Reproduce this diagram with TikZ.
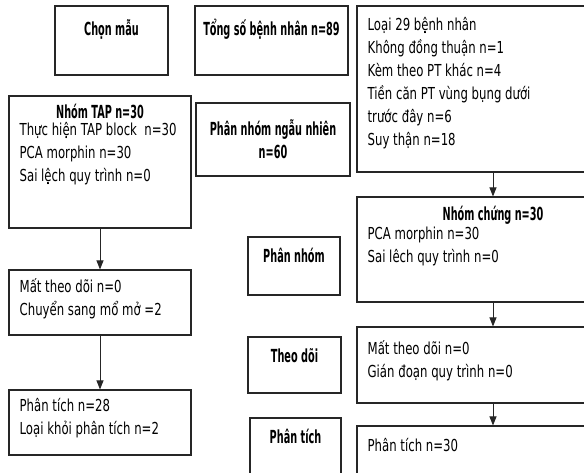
\documentclass[tikz,border=0pt]{standalone}
\usepackage{fontspec}
\setmainfont{DejaVu Sans}[FakeStretch=0.71, BoldFeatures={FakeStretch=0.54}]
\usetikzlibrary{arrows.meta}

\tikzset{
  box/.style={draw=black!85, line width=1.1pt, inner sep=0pt},
  head/.style={font=\bfseries\fontsize{18}{23}\selectfont, align=center, inner sep=0pt},
  body/.style={font=\fontsize{16.5}{23}\selectfont, align=left, anchor=north west, inner sep=0pt},
  flow/.style={-{Triangle[length=9pt,width=7pt]}, line width=0.9pt, black!85}
}

\begin{document}
\begin{tikzpicture}[x=1pt,y=-1pt]
\useasboundingbox (0,0) rectangle (584,472);
\clip (0,0) rectangle (584,472);
%top row
\node[box, minimum width=113pt, minimum height=69pt] (chon) at (111.5,40.5) {};
\node[box, minimum width=153pt, minimum height=69pt] (tong) at (271.5,40.5) {};
\node[box, minimum width=272pt, minimum height=166pt] (loai) at (493,89) {};
\node[head] (chonT) at ([yshift=-24pt]chon.north) {Chọn mẫu};
\node[head] (tongT) at ([yshift=-24pt]tong.north) {Tổng số bệnh nhân n=89};
\node[body] (loaiT) at ([xshift=11pt,yshift=-12pt]loai.north west)
  {Loại 29 bệnh nhân\\Không đồng thuận n=1\\Kèm theo PT khác n=4\\Tiền căn PT vùng bụng dưới\\trước đây n=6\\Suy thận n=18};
%groups
\node[box, minimum width=182pt, minimum height=132pt] (tap) at (100,162) {};
\node[box, minimum width=154pt, minimum height=73pt] (ngau) at (273,139.5) {};
\node[box, minimum width=272pt, minimum height=105pt] (chung) at (493,249.5) {};
\node[head] (tapH) at ([yshift=-16pt]tap.north) {Nhóm TAP n=30};
\node[body] (tapT) at ([xshift=11pt,yshift=-27pt]tap.north west)
  {Thực hiện TAP block\ \ n=30\\PCA morphin n=30\\Sai lệch quy trình n=0};
\node[head] (ngauT) at (ngau.center) {Phân nhóm ngẫu nhiên\\n=60};
\node[head] (chungH) at ([yshift=-19pt]chung.north) {Nhóm chứng n=30};
\node[body] (chungT) at ([xshift=11pt,yshift=-30pt]chung.north west)
  {PCA morphin n=30\\Sai lêch quy trình n=0};
%follow up
\node[box, minimum width=92pt, minimum height=58pt] (pnhom) at (294,266) {};
\node[box, minimum width=182pt, minimum height=65pt] (matL) at (100,302.5) {};
\node[box, minimum width=93pt, minimum height=56pt] (theodoi) at (294.5,365) {};
\node[box, minimum width=272pt, minimum height=76pt] (matR) at (493,365) {};
\node[head] (pnhomT) at ([yshift=-19pt]pnhom.north) {Phân nhóm};
\node[head] (theodoiT) at ([yshift=-19pt]theodoi.north) {Theo dõi};
\node[body] (matLT) at ([xshift=11pt,yshift=-9pt]matL.north west)
  {Mất theo dõi n=0\\Chuyển sang mổ mở =2};
\node[body] (matRT) at ([xshift=11pt,yshift=-14pt]matR.north west)
  {Mất theo dõi n=0\\Gián đoạn quy trình n=0};
%analysis
\node[box, minimum width=182pt, minimum height=65pt] (ptL) at (100,422.5) {};
\node[box, minimum width=91pt, minimum height=72pt] (ptC) at (295.5,454) {};
\node[box, minimum width=272pt, minimum height=74pt] (ptR) at (493,463) {};
\node[body] (ptLT) at ([xshift=11pt,yshift=-9pt]ptL.north west)
  {Phân tích n=28\\Loại khỏi phân tích n=2};
\node[head] (ptCT) at ([yshift=-19pt]ptC.north) {Phân tích};
\node[body] (ptRT) at ([xshift=11pt,yshift=-13pt]ptR.north west) {Phân tích n=30};
%arrows
\draw[flow] (tap) -- (matL);
\draw[flow] (matL) -- (ptL);
\draw[flow] (loai) -- (chung);
\draw[flow] (chung) -- (matR);
\draw[flow] (matR) -- (ptR);
\end{tikzpicture}
\end{document}
